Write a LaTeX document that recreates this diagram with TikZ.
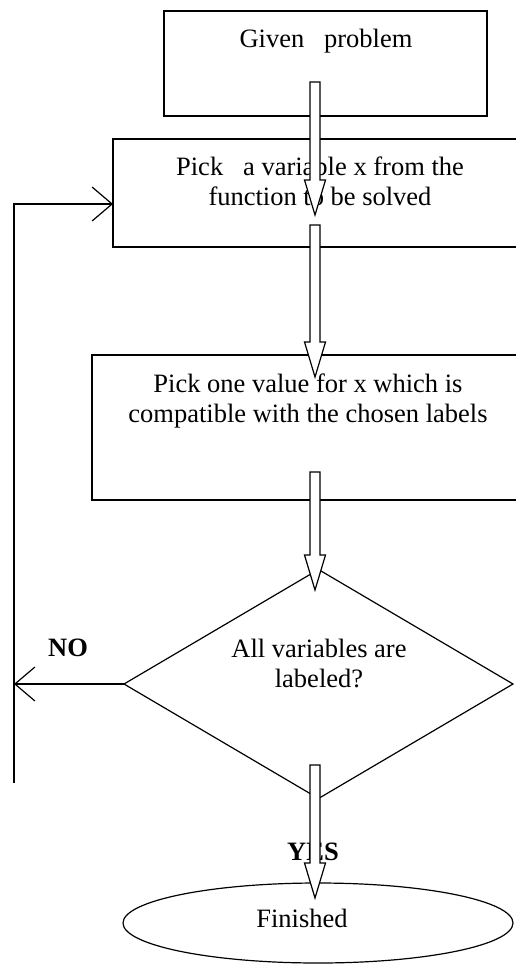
\documentclass[tikz,border=0pt]{standalone}
\usepackage{fontspec}
\setmainfont{Liberation Serif}
\usetikzlibrary{arrows.meta,shapes.geometric,calc}
\newcommand\blockarrow[2]{%
  \draw[line width=1.2pt, fill=white, line join=miter]
    ($(#1)+(-5,0)$) -- ($(#2)+(-5,-35)$) -- ($(#2)+(-10.5,-35)$) -- (#2)
    -- ($(#2)+(10.5,-35)$) -- ($(#2)+(5,-35)$) -- ($(#1)+(5,0)$) -- cycle;}
\begin{document}
\begin{tikzpicture}[x=1pt,y=-1pt,
  every node/.style={font=\fontsize{26.5}{30}\selectfont, inner sep=0pt, outer sep=0pt},
  box/.style={draw, line width=1.2pt, rectangle},
  lbl/.style={anchor=base, align=center},
  yn/.style={anchor=base, font=\fontsize{26.5}{30}\selectfont\bfseries},
  loop/.style={line width=1.2pt, -{Straight Barb[length=20pt, width=34pt, line width=1.2pt]}}]
\useasboundingbox (0,0) rectangle (516,964);
\clip (0,0) rectangle (516,964);
% shapes
\node[box, minimum width=323pt, minimum height=105pt] (b1) at (325.5,63.5) {};
\node[box, minimum width=414pt, minimum height=108pt] (b2) at (320,193) {};
\node[box, minimum width=432pt, minimum height=145pt] (b3) at (308,427.5) {};
\node[draw, line width=1.2pt, diamond, minimum width=389pt, minimum height=229pt] (dia) at (318.5,684) {};
\node[draw, line width=1.2pt, ellipse, minimum width=390pt, minimum height=80pt] (fin) at (318,923) {};
% texts
\node[lbl] (t1) at (326,47) {Given\ \ \ problem};
\node[lbl] (t2) at (320,205) {Pick\ \ \ a variable x from the\\function to be solved};
\node[lbl] (t3) at (308,422) {Pick one value for x which is\\compatible with the chosen labels};
\node[lbl] (t4) at (319,687) {All variables are\\labeled?};
\node[lbl] (t5) at (302,927) {Finished};
\node[yn] (no) at (68,656) {NO};
\node[yn] (yes) at (313,860) {YES};
% loop back
\coordinate (lb) at (14,783);
\coordinate (lt) at (14,204);
\draw[loop] (dia.west) -- (lb |- dia.west);
\draw[loop] (lb) -- (lt) -- (b2.west |- lt);
% block arrows
\coordinate (a1s) at (315,82);  \coordinate (a1e) at (315,215);
\coordinate (a2s) at (315,225); \coordinate (a2e) at (315,377);
\coordinate (a3s) at (315,472); \coordinate (a3e) at (315,590);
\coordinate (a4s) at (315,765); \coordinate (a4e) at (315,898);
\blockarrow{a1s}{a1e}
\blockarrow{a2s}{a2e}
\blockarrow{a3s}{a3e}
\blockarrow{a4s}{a4e}
\end{tikzpicture}
\end{document}
